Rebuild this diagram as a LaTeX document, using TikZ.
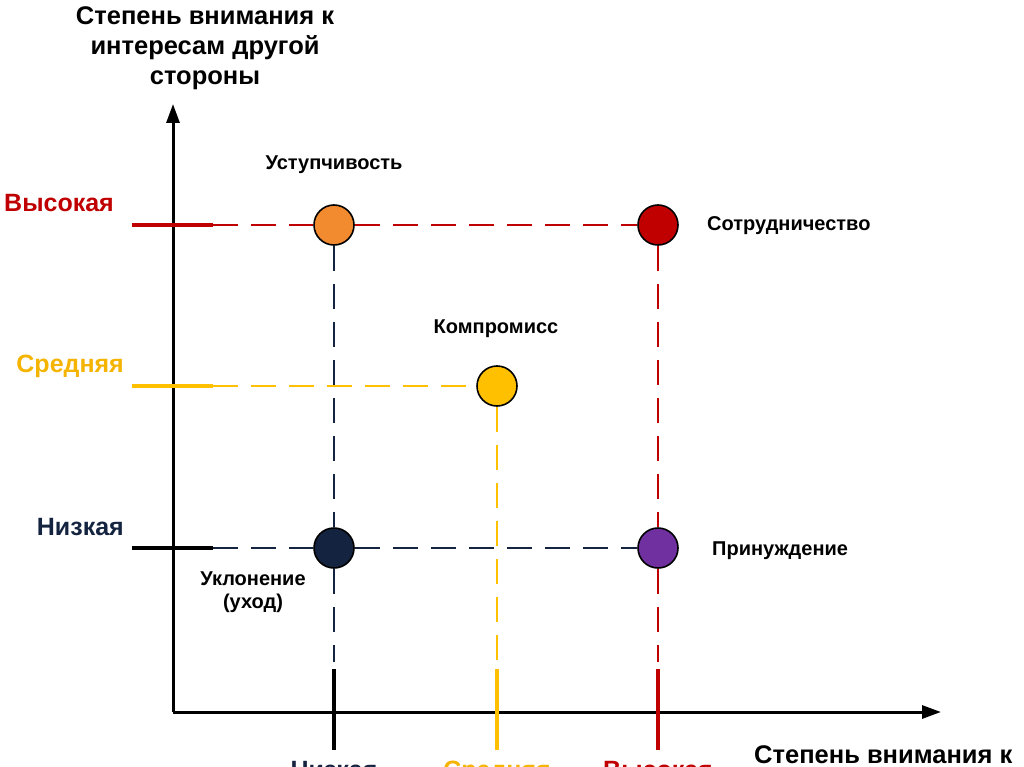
\documentclass[tikz,border=0pt]{standalone}
\usepackage{fontspec}
\setmainfont{Liberation Sans}
\usetikzlibrary{arrows.meta}
\definecolor{cred}{HTML}{C00000}
\definecolor{cyel}{HTML}{FFC000}
\definecolor{cnavy}{HTML}{142440}
\definecolor{corange}{HTML}{F28B30}
\definecolor{cpurple}{HTML}{7030A0}
\definecolor{clabyel}{HTML}{F5B400}
\begin{document}
\begin{tikzpicture}[x=1pt,y=-1pt,
  dot/.style={circle,draw=black,line width=1.6pt,minimum size=40pt,inner sep=0pt},
  axis/.style={line width=3pt,-{Triangle[length=19pt,width=13pt]}},
  tick/.style={line width=3.2pt},
  dsh/.style={line width=1.6pt,dash pattern=on 25pt off 13pt},
  lvl/.style={font=\bfseries\fontsize{25}{30}\selectfont},
  strat/.style={font=\bfseries\fontsize{20}{23}\selectfont,align=center},
  ttl/.style={font=\bfseries\fontsize{25.5}{30}\selectfont,align=center}]
\useasboundingbox (0,0) rectangle (1024,767);
\clip (0,0) rectangle (1024,767);
\fill[white] (0,0) rectangle (1024,767);
% axes
\coordinate (O) at (173,712);
\coordinate (Ytop) at (173,104);
\coordinate (Xend) at (941,712);
\draw[axis] (O) -- (Ytop);
\draw[axis] (O) -- (Xend);
% titles
\node[ttl,anchor=base,inner sep=0pt] (ytitle) at (205,85) {Степень внимания к\\интересам другой\\стороны};
\node[ttl,anchor=base west,inner sep=0pt] (xtitle) at (754,763) {Степень внимания к};
% y ticks
\coordinate (hyL) at (132,225); \coordinate (hyR) at (213,225);
\coordinate (myL) at (132,386); \coordinate (myR) at (213,386);
\coordinate (lyL) at (132,548); \coordinate (lyR) at (213,548);
\draw[tick,cred] (hyL) -- (hyR);
\draw[tick,cyel] (myL) -- (myR);
\draw[tick,black] (lyL) -- (lyR);
\node[lvl,text=cred,anchor=base east,inner sep=0pt] (lh) at (114,212) {Высокая};
\node[lvl,text=clabyel,anchor=base east,inner sep=0pt] (lm) at (124,372) {Средняя};
\node[lvl,text=cnavy,anchor=base east,inner sep=0pt] (ll) at (124,535) {Низкая};
% x ticks
\coordinate (lxT) at (334,669); \coordinate (lxB) at (334,750);
\coordinate (mxT) at (497,669); \coordinate (mxB) at (497,750);
\coordinate (hxT) at (658,669); \coordinate (hxB) at (658,750);
\coordinate (lxD) at (334,662); \coordinate (mxD) at (497,662); \coordinate (hxD) at (658,662);
\draw[tick,black] (lxT) -- (lxB);
\draw[tick,cyel] (mxT) -- (mxB);
\draw[tick,cred] (hxT) -- (hxB);
\node[lvl,text=cnavy,anchor=base,inner sep=0pt] (bl) at (334,778) {Низкая};
\node[lvl,text=clabyel,anchor=base,inner sep=0pt] (bm) at (497,778) {Средняя};
\node[lvl,text=cred,anchor=base,inner sep=0pt] (bh) at (658,778) {Высокая};
% circles
\node[dot,fill=corange] (acc) at (334,225) {};
\node[dot,fill=cred] (col) at (658,225) {};
\node[dot,fill=cyel] (com) at (497,386) {};
\node[dot,fill=cnavy] (avo) at (334,548) {};
\node[dot,fill=cpurple] (coe) at (658,548) {};
% dashed guides
\draw[dsh,cred] (hyR) -- (acc.west);
\draw[dsh,cred] (acc.east) -- (col.west);
\draw[dsh,cyel] (myR) -- (com.west);
\draw[dsh,cnavy] (lyR) -- (avo.west);
\draw[dsh,cnavy] (avo.east) -- (coe.west);
\draw[dsh,cnavy] (acc.south) -- (avo.north);
\draw[dsh,cnavy] (avo.south) -- (lxD);
\draw[dsh,cyel] (com.south) -- (mxD);
\draw[dsh,cred] (col.south) -- (coe.north);
\draw[dsh,cred] (coe.south) -- (hxD);
% strategy labels
\node[strat,anchor=base,inner sep=0pt] (tacc) at (334,170) {Уступчивость};
\node[strat,anchor=base west,inner sep=0pt] (tcol) at (707,231) {Сотрудничество};
\node[strat,anchor=base,inner sep=0pt] (tcom) at (496,333) {Компромисс};
\node[strat,anchor=base west,inner sep=0pt] (tcoe) at (712,555) {Принуждение};
\node[strat,anchor=base,inner sep=0pt] (tavo) at (253,608) {Уклонение\\(уход)};
\end{tikzpicture}
\end{document}
